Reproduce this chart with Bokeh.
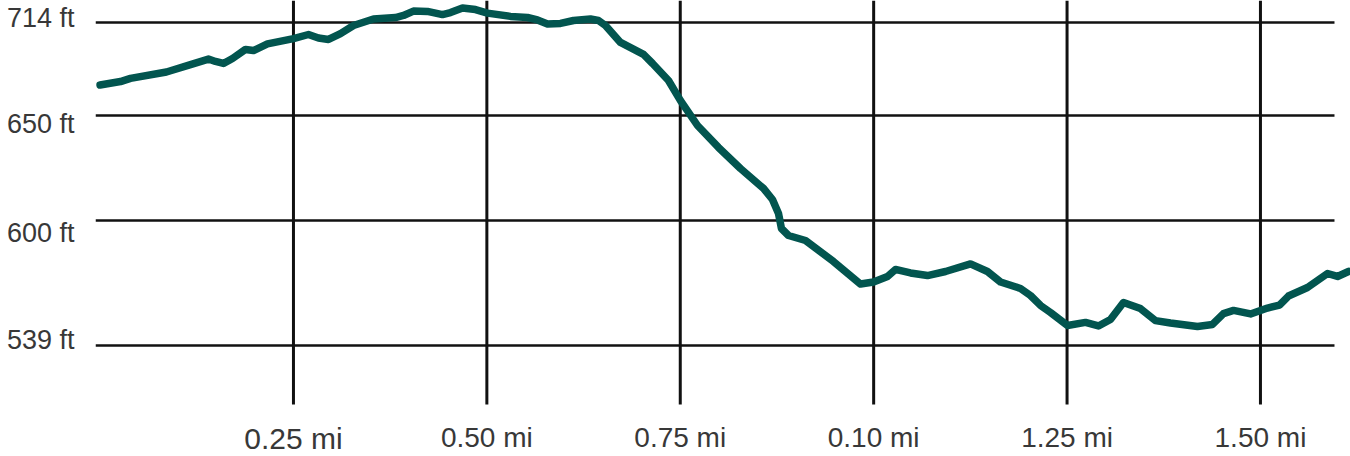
from bokeh.plotting import figure
from bokeh.models import FixedTicker, Range1d, ColumnDataSource
from bokeh.core.properties import value
from bokeh.embed import file_html
from bokeh.resources import INLINE

# distance along the trail (mi) and elevation (ft)
distance_mi = [0.000, 0.0264, 0.0393, 0.0858, 0.1169, 0.1401, 0.1492, 0.1595, 0.1712, 0.1880,
               0.1983, 0.2164, 0.2500, 0.2694, 0.2823, 0.2953, 0.3108, 0.3276, 0.3534, 0.3819,
               0.3922, 0.4051, 0.4232, 0.4426, 0.4530, 0.4685, 0.4853, 0.5008, 0.5305, 0.5525,
               0.5654, 0.5784, 0.5952, 0.6120, 0.6339, 0.6443, 0.6533, 0.6727, 0.7025, 0.7142,
               0.7348, 0.7503, 0.7723, 0.7994, 0.8278, 0.8576, 0.8692, 0.8770, 0.8808, 0.8899,
               0.9119, 0.9481, 0.9830, 0.9998, 1.0179, 1.0282, 1.0476, 1.0696, 1.0929, 1.1252,
               1.1471, 1.1640, 1.1898, 1.2027, 1.2157, 1.2286, 1.2506, 1.2738, 1.2906, 1.3061,
               1.3229, 1.3449, 1.3643, 1.3837, 1.4186, 1.4380, 1.4522, 1.4652, 1.4872, 1.5091,
               1.5246, 1.5362, 1.5608, 1.5867, 1.5996, 1.6138]
elevation_ft = [680.1, 682.0, 683.7, 687.2, 691.2, 694.2, 692.9, 691.8, 694.5, 699.4,
                698.8, 702.4, 705.3, 707.5, 705.6, 704.8, 708.0, 712.4, 715.9, 716.7,
                717.8, 720.2, 720.0, 718.3, 719.4, 721.9, 721.0, 719.1, 717.3, 716.7,
                715.4, 713.2, 713.5, 715.1, 715.9, 715.1, 712.4, 703.2, 696.7, 691.8,
                682.6, 671.7, 658.2, 646.3, 634.9, 624.1, 618.1, 610.5, 602.4, 598.6,
                595.9, 584.5, 572.3, 573.4, 576.4, 580.2, 578.3, 576.9, 579.1, 583.2,
                579.1, 573.4, 569.9, 566.1, 560.7, 556.9, 549.8, 551.5, 549.6, 553.1,
                562.3, 559.0, 552.5, 551.2, 549.3, 550.4, 556.3, 558.0, 556.1, 559.3,
                560.9, 565.8, 570.4, 578.0, 576.4, 579.1]

# distance ticks and their printed labels (the first one is printed larger)
x_tick_values = [0.25, 0.50, 0.75, 1.00, 1.25, 1.50]
x_tick_labels = ["0.25 mi", "0.50 mi", "0.75 mi", "0.10 mi", "1.25 mi", "1.50 mi"]
x_label_sizes = ["30px", "28px", "28px", "28px", "28px", "28px"]
x_label_y = [488.8, 489.2, 489.2, 489.2, 489.2, 489.2]

# elevation grid lines, and where their printed labels sit
y_grid_values = [539.0, 606.7, 663.6, 714.0]
y_label_values = [542.0, 600.0, 659.0, 716.2]
y_tick_labels = ["539 ft", "600 ft", "650 ft", "714 ft"]

X_START, X_END = -0.0059, 1.6164
Y_START, Y_END = 478.86, 725.92
GRID_X_END = 1.5957      # horizontal grid lines stop short of the right edge
GRID_Y_START = 507.0     # vertical grid lines stop above the distance labels

FONT = "Liberation Sans"
TEXT_COLOR = "#383838"
LINE_COLOR = "#02554f"
GRID_COLOR = "#111111"

p = figure(width=1350, height=456, output_backend="svg", toolbar_location=None,
           x_range=Range1d(X_START, X_END), y_range=Range1d(Y_START, Y_END),
           x_axis_location=None,
           min_border_left=95, min_border_right=0, min_border_top=0, min_border_bottom=0)
p.outline_line_color = None
p.background_fill_color = "white"
p.border_fill_color = "white"
p.xgrid.visible = False
p.ygrid.visible = False

# grid lines
p.segment(x0=[X_START] * len(y_grid_values), y0=y_grid_values,
          x1=[GRID_X_END] * len(y_grid_values), y1=y_grid_values,
          line_color=GRID_COLOR, line_width=2.5)
p.segment(x0=x_tick_values, y0=[GRID_Y_START] * len(x_tick_values),
          x1=x_tick_values, y1=[Y_END] * len(x_tick_values),
          line_color=GRID_COLOR, line_width=3)

# elevation profile
p.line(distance_mi, elevation_ft, line_color=LINE_COLOR, line_width=7.5,
       line_join="round", line_cap="round")

# distance labels
lab = ColumnDataSource(dict(x=x_tick_values, y=x_label_y, text=x_tick_labels, size=x_label_sizes))
p.text(x="x", y="y", text="text", source=lab, text_font=value(FONT), text_font_size="size",
       text_color=TEXT_COLOR, text_align="center", text_baseline="alphabetic")

# elevation axis
p.yaxis.ticker = FixedTicker(ticks=y_label_values)
p.yaxis.major_label_overrides = {v: l for v, l in zip(y_label_values, y_tick_labels)}
p.yaxis.axis_line_color = None
p.yaxis.major_tick_line_color = None
p.yaxis.minor_tick_line_color = None
p.yaxis.major_tick_out = 0
p.yaxis.major_tick_in = 0
p.yaxis.major_label_standoff = 21
p.yaxis.major_label_text_font = FONT
p.yaxis.major_label_text_font_size = "27px"
p.yaxis.major_label_text_color = TEXT_COLOR

open("out.html", "w").write(file_html(p, INLINE))
